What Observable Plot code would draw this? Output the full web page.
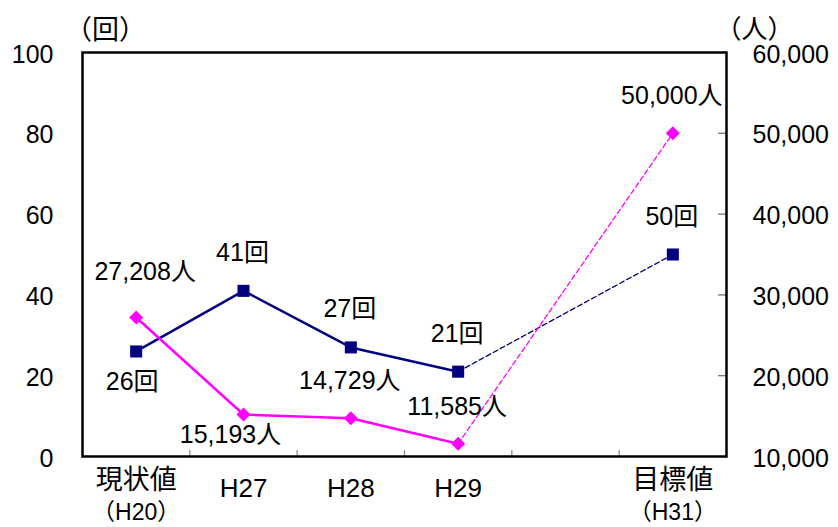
<!DOCTYPE html>
<html>
<head>
<meta charset="utf-8">
<script src="https://cdn.jsdelivr.net/npm/d3@7"></script>
<script src="https://cdn.jsdelivr.net/npm/@observablehq/plot@0.6"></script>
<style>
  html, body { margin: 0; padding: 0; background: #fff; }
</style>
</head>
<body>
<div id="chart"></div>
<script>
// ---- data ----
const categories   = ["現状値", "H27", "H28", "H29", "", "目標値"];
const categorySub  = ["（H20）", "", "", "", "", "（H31）"];
const visits       = [26, 41, 27, 21, null, 50];          // 回 (left axis)
const visitors     = [27208, 15193, 14729, 11585, null, 50000]; // 人 (right axis)
const leftTicks    = [0, 20, 40, 60, 80, 100];
const rightTicks   = [10000, 20000, 30000, 40000, 50000, 60000];
const leftUnit  = "（回）";
const rightUnit = "（人）";

// map right-axis value (人) onto left scale (0–100)
const pMin = 10000, pMax = 60000;
const toLeft = p => (p - pMin) / (pMax - pMin) * 100;

const rows = categories.map((c, i) => ({
  i, pos: i + 0.5, c, sub: categorySub[i], v: visits[i], p: visitors[i]
}));
const pts = rows.filter(d => d.v != null);
const solid = pts.filter(d => d.i <= 3);
const dashed = pts.filter(d => d.i === 3 || d.i === 5);

const fmt = d3.format(",");
const NAVY = "#000080", MAG = "#FF00FF";
const FONT = "'Liberation Sans', 'Noto Sans CJK JP', sans-serif";

const chart = Plot.plot({
  width: 838,
  height: 527,
  marginLeft: 82,
  marginRight: 112,
  marginTop: 52,
  marginBottom: 71,
  style: { fontFamily: FONT, fontSize: "25px", background: "white", color: "black" },
  x: { domain: [0, categories.length], axis: null },
  y: { domain: [0, 100], axis: null },
  marks: [
    // inner ticks on bottom (category boundaries)
    Plot.tickX(d3.range(1, categories.length), { x: d => d, stroke: "#888", strokeWidth: 1.2, insetTop: 398 }),
    // inner ticks on right axis
    Plot.tickY(rightTicks.slice(1, -1), { y: d => toLeft(d), stroke: "#666", strokeWidth: 1.2, insetLeft: 636 }),
    // left axis labels
    Plot.axisY(leftTicks, { anchor: "left", label: null, tickSize: 0, tickPadding: 29, fontSize: 25, dy: 2 }),
    // right axis labels
    Plot.axisY(rightTicks.map(toLeft), { anchor: "right", label: null, tickSize: 0, tickPadding: 26, fontSize: 25, dy: 2,
      tickFormat: d => fmt(Math.round(pMin + d / 100 * (pMax - pMin))) }),
    Plot.frame({ stroke: "black", strokeWidth: 2.5 }),
    // x category labels
    Plot.text(rows.filter(d => d.c && d.sub), { x: "pos", text: "c", frameAnchor: "bottom", lineAnchor: "middle", dy: 24, fontSize: 27 }),
    Plot.text(rows.filter(d => d.c && !d.sub), { x: "pos", text: "c", frameAnchor: "bottom", lineAnchor: "middle", dy: 32, fontSize: 26 }),
    Plot.text(rows.filter(d => d.sub), { x: "pos", text: "sub", frameAnchor: "bottom", lineAnchor: "middle", dy: 56, fontSize: 23 }),
    // unit labels
    Plot.text([leftUnit], { frameAnchor: "top-left", textAnchor: "middle", lineAnchor: "middle", text: d => d, dx: 23, dy: -22, fontSize: 27 }),
    Plot.text([rightUnit], { frameAnchor: "top-right", textAnchor: "middle", lineAnchor: "middle", text: d => d, dx: 28, dy: -23, fontSize: 26 }),
    // lines
    Plot.line(solid, { x: "pos", y: "v", stroke: NAVY, strokeWidth: 2.5 }),
    Plot.line(dashed, { x: "pos", y: "v", stroke: NAVY, strokeWidth: 1.3, strokeDasharray: "5,3" }),
    Plot.line(solid, { x: "pos", y: d => toLeft(d.p), stroke: MAG, strokeWidth: 2.5 }),
    Plot.line(dashed, { x: "pos", y: d => toLeft(d.p), stroke: MAG, strokeWidth: 1.3, strokeDasharray: "5,3" }),
    // markers
    Plot.dot(pts, { x: "pos", y: "v", symbol: "square", r: 6.8, fill: NAVY, stroke: "none" }),
    Plot.dot(pts, { x: "pos", y: d => toLeft(d.p), symbol: "diamond2", r: 6.3, fill: MAG, stroke: "none" }),
    // value labels: visits
    Plot.text(pts.filter(d => d.i !== 0), { x: "pos", y: "v", text: d => d.v + "回", dy: -38, dx: -1, fontSize: 25 }),
    Plot.text(pts.filter(d => d.i === 0), { x: "pos", y: "v", text: d => d.v + "回", dy: 31, dx: -4, fontSize: 25 }),
    // value labels: visitors
    Plot.text(pts.filter(d => d.i >= 2), { x: "pos", y: d => toLeft(d.p), text: d => fmt(d.p) + "人", dy: -37, dx: -1, fontSize: 25 }),
    Plot.text(pts.filter(d => d.i === 0), { x: "pos", y: d => toLeft(d.p), text: d => fmt(d.p) + "人", dy: -45, dx: 9, fontSize: 25 }),
    Plot.text(pts.filter(d => d.i === 1), { x: "pos", y: d => toLeft(d.p), text: d => fmt(d.p) + "人", dy: 20, dx: -13, fontSize: 25 })
  ]
});
document.getElementById("chart").appendChild(chart);
</script>
</body>
</html>
